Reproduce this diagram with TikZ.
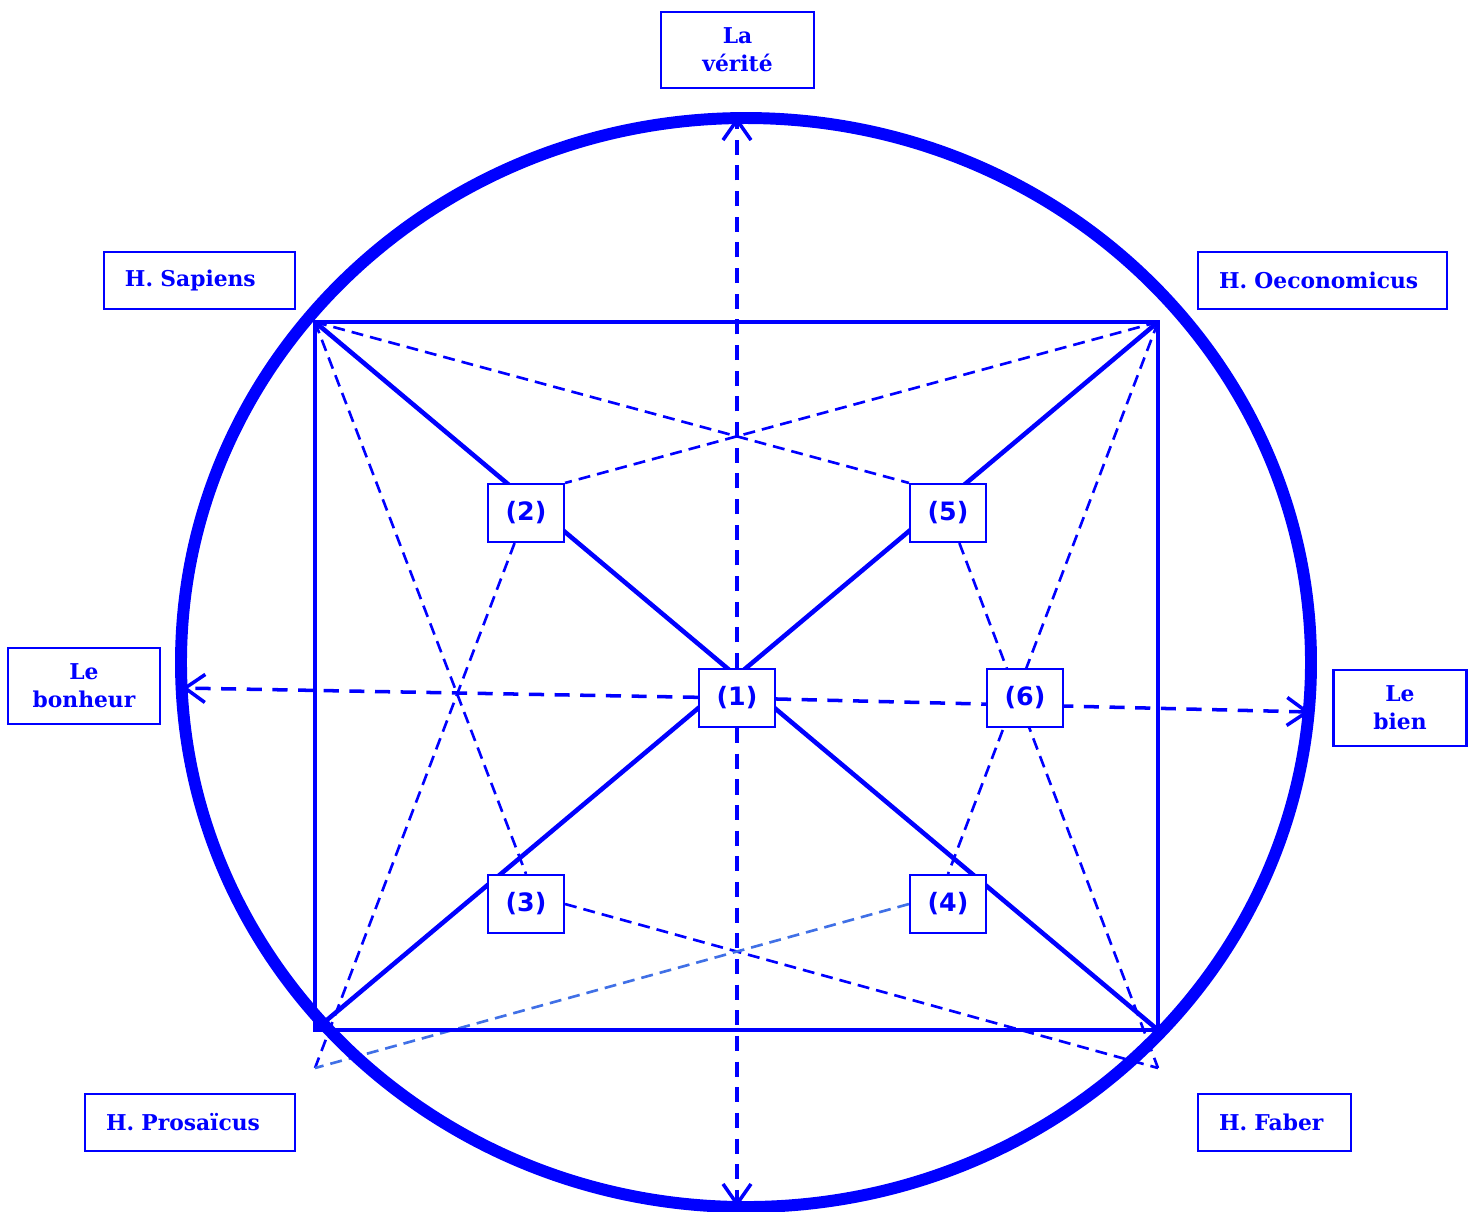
\documentclass[tikz,border=0pt]{standalone}
\usepackage{fontspec}
\setmainfont{DejaVu Serif}
\newfontfamily\numfont{DejaVu Sans}
\usetikzlibrary{arrows.meta}
\definecolor{pblue}{RGB}{0,0,255}
\definecolor{lblue}{RGB}{64,112,230}
\pgfdeclarelayer{bg}
\pgfsetlayers{bg,main}

\begin{document}
\begin{tikzpicture}[
    >={Straight Barb[length=2mm,width=2.8mm]},
    ring/.style={draw=pblue, line width=3.4pt},
    frame/.style={draw=pblue, line width=1.4pt},
    diag/.style={draw=pblue, line width=1.3pt},
    thin/.style={draw=pblue, line width=0.75pt, dash pattern=on 3.4pt off 2pt},
    axe/.style={->, draw=pblue, line width=1pt, dash pattern=on 4.3pt off 3pt},
    lab/.style={draw=pblue, line width=0.6pt, fill=white, text=pblue, font=\fontsize{6.2}{8}\selectfont\bfseries, minimum height=0.57cm, inner sep=0pt},
    clab/.style={lab, align=center, minimum height=0.76cm},
    llab/.style={lab, align=left, inner xsep=2.1mm},
    num/.style={draw=pblue, line width=0.6pt, fill=white, text=pblue, font=\numfont\fontsize{7.2}{8}\selectfont\bfseries, minimum width=0.76cm, minimum height=0.58cm, inner sep=0pt}
]
\useasboundingbox (0,0) rectangle (14.75,-12.11);

% =========================================================
% CERCLE ET RECTANGLE
% =========================================================
\draw[ring] (7.46,-6.625) ellipse [x radius=5.65, y radius=5.445];

\coordinate (TL) at (3.15,-3.22);
\coordinate (TR) at (11.58,-3.22);
\coordinate (BL) at (3.15,-10.30);
\coordinate (BR) at (11.58,-10.30);
\coordinate (BLx) at (3.15,-10.68);
\coordinate (BRx) at (11.58,-10.68);

\draw[frame] (TL) rectangle (BR);

% ------------------- noeuds interieurs -------------------
\node[num] (n1) at (7.37,-6.98) {(1)};
\node[num] (n2) at (5.26,-5.13) {(2)};
\node[num] (n5) at (9.48,-5.13) {(5)};
\node[num] (n3) at (5.26,-9.04) {(3)};
\node[num] (n4) at (9.48,-9.04) {(4)};
\node[num] (n6) at (10.25,-6.98) {(6)};

% bouts des axes
\coordinate (up) at (7.37,-1.17);
\coordinate (down) at (7.37,-12.07);
\coordinate (left) at (1.82,-6.88);
\coordinate (right) at (13.10,-7.12);

% ------------------- traits (sous les noeuds) -------------------
\begin{pgfonlayer}{bg}
% diagonales pleines du rectangle
\draw[diag] (TL) -- (BR);
\draw[diag] (TR) -- (BL);

% pointilles fins
\draw[thin] (TL) -- (n5.north west);
\draw[thin] (TR) -- (n2.north east);
\draw[thin] (TL) -- (n3.north);
\draw[thin] (TR) -- (n4.north);
\draw[thin] (n2) -- (BLx);
\draw[thin] (n5) -- (BRx);
\draw[thin] (n3.east) -- (BRx);
\draw[thin, draw=lblue] (n4.west) -- (BLx);

% axes
\draw[axe] (n1) -- (up);
\draw[axe] (n1) -- (down);
\draw[axe] (n1) -- (left);
\draw[axe] (n1) -- (right);
\end{pgfonlayer}

% =========================================================
% ETIQUETTES EXTERIEURES
% =========================================================
\node[clab, minimum width=1.53cm] (verite) at (7.375,-0.50) {La\\vérité};
\node[llab, text width=1.49cm, minimum width=1.91cm] (sapiens) at (1.995,-2.805) {H. Sapiens};
\node[llab, text width=2.07cm, minimum width=2.49cm] (oeco) at (13.225,-2.805) {H. Oeconomicus};
\node[clab, minimum width=1.52cm] (bonheur) at (0.84,-6.86) {Le\\bonheur};
\node[clab, minimum width=1.33cm] (bien) at (14.0,-7.08) {Le\\bien};
\node[llab, text width=1.68cm, minimum width=2.10cm] (prosa) at (1.90,-11.225) {H. Prosaïcus};
\node[llab, text width=1.11cm, minimum width=1.53cm] (faber) at (12.745,-11.225) {H. Faber};

\end{tikzpicture}
\end{document}
